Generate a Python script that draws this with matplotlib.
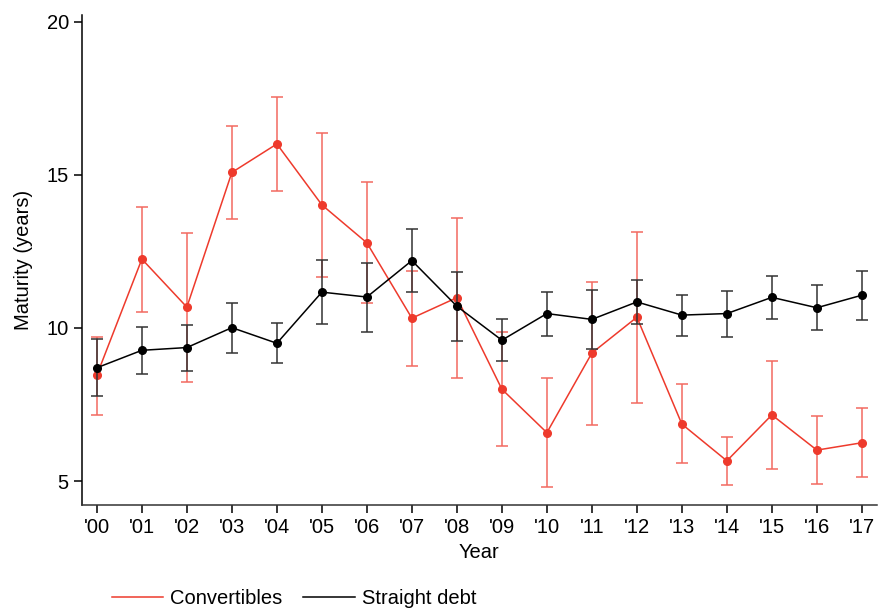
import matplotlib
matplotlib.use("Agg")
import matplotlib.pyplot as plt
import numpy as np
from matplotlib.lines import Line2D

# Year labels
years = ["'00", "'01", "'02", "'03", "'04", "'05", "'06", "'07", "'08",
         "'09", "'10", "'11", "'12", "'13", "'14", "'15", "'16", "'17"]

# Convertibles: mean maturity and CI bounds
conv_mean = [8.46, 12.25, 10.68, 15.08, 16.01, 14.02, 12.78, 10.32, 10.99,
             8.00, 6.58, 9.18, 10.35, 6.86, 5.66, 7.16, 6.01, 6.25]
conv_hi = [9.70, 13.96, 13.09, 16.61, 17.56, 16.36, 14.76, 11.86, 13.60,
           9.88, 8.36, 11.51, 13.13, 8.16, 6.43, 8.91, 7.11, 7.38]
conv_lo = [7.16, 10.52, 8.23, 13.56, 14.48, 11.68, 10.81, 8.76, 8.38,
           6.14, 4.79, 6.83, 7.55, 5.59, 4.87, 5.38, 4.89, 5.14]

# Straight debt: mean maturity and CI bounds
debt_mean = [8.70, 9.27, 9.36, 10.01, 9.50, 11.17, 11.01, 12.20, 10.71,
             9.60, 10.47, 10.28, 10.85, 10.42, 10.47, 11.00, 10.66, 11.07]
debt_hi = [9.64, 10.02, 10.10, 10.83, 10.17, 12.22, 12.12, 13.22, 11.83,
           10.28, 11.19, 11.24, 11.56, 11.09, 11.21, 11.69, 11.40, 11.87]
debt_lo = [7.78, 8.50, 8.61, 9.19, 8.85, 10.12, 9.88, 11.17, 9.59,
           8.91, 9.74, 9.32, 10.14, 9.75, 9.72, 10.29, 9.94, 10.26]

plt.rcParams['font.family'] = ['Liberation Sans', 'DejaVu Sans']

red = '#ee3a2c'
fs = 14.5
x = np.arange(len(years))

fig = plt.figure(figsize=(8.82, 6.15), dpi=100)
ax = fig.add_axes([0.093, 0.179, 0.901, 0.797])

def draw(mean, lo, hi, color, ecolor, z):
    mean = np.array(mean)
    yerr = [mean - np.array(lo), np.array(hi) - mean]
    ax.errorbar(x, mean, yerr=yerr, fmt='none', ecolor=ecolor,
                elinewidth=1.1, capsize=4.5, capthick=1.1, zorder=z)
    ax.plot(x, mean, color=color, lw=1.1, marker='o', ms=5.5, zorder=z + 1)

draw(conv_mean, conv_lo, conv_hi, red, '#f26a60', 2)
draw(debt_mean, debt_lo, debt_hi, 'black', '#333333', 4)

ax.set_xlim(-0.33, 17.33)
ax.set_ylim(4.22, 20.23)
ax.set_xticks(x)
ax.set_xticklabels(years)
ax.set_yticks([5, 10, 15, 20])
ax.tick_params(labelsize=fs, length=6, width=1.1, direction='out')
for s in ['top', 'right']:
    ax.spines[s].set_visible(False)
ax.spines['left'].set_linewidth(1.1)
ax.spines['bottom'].set_linewidth(1.1)
ax.spines['bottom'].set_color('#333333')
ax.set_xlabel('Year', fontsize=fs, labelpad=4)
ax.set_ylabel('Maturity (years)', fontsize=fs, labelpad=10)

# two legend entries, each anchored where the original places it
entries = [(red, 'Convertibles', 0.127), ('black', 'Straight debt', 0.344)]
for color, label, x0 in entries:
    fig.legend([Line2D([], [], color=color, lw=1.1)], [label], loc='center left',
               bbox_to_anchor=(x0, 0.027), frameon=False, borderpad=0,
               borderaxespad=0, fontsize=fs, handlelength=2.55, handletextpad=0.35)

fig.savefig('out.png', dpi=100)
